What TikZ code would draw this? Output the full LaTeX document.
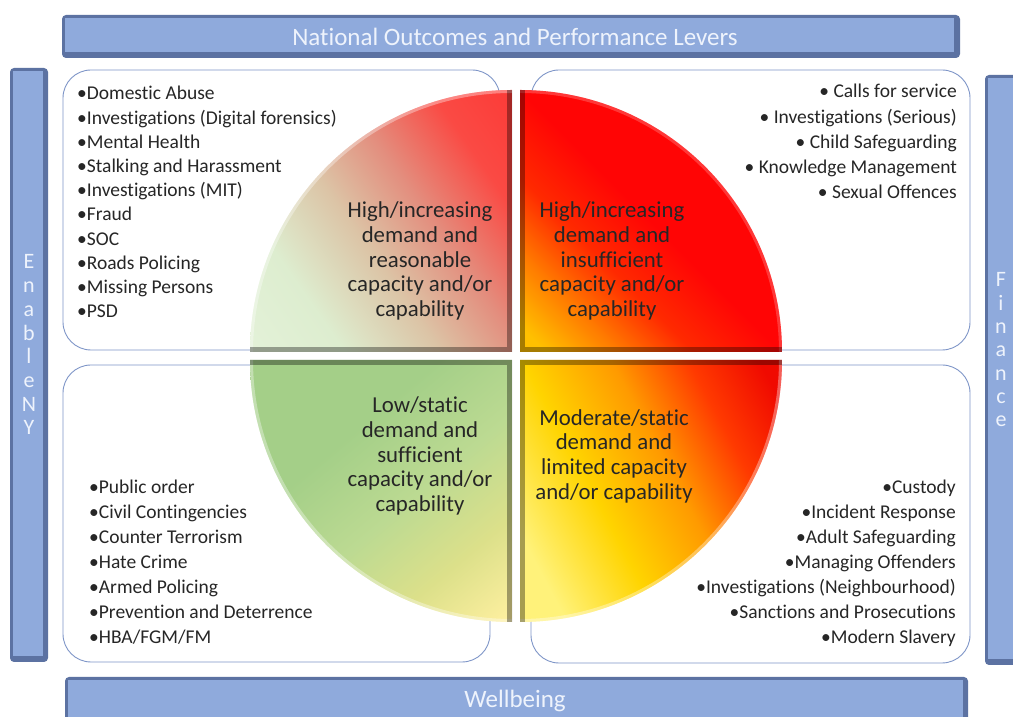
\documentclass[tikz,border=0pt]{standalone}
\usepackage{fontspec}
\setmainfont{Carlito}[Ligatures=NoCommon]

\definecolor{barfill}{HTML}{8FAADC}
\definecolor{baredge}{HTML}{5C72A2}
\definecolor{bartxt}{HTML}{EEF3FC}
\definecolor{boxline}{HTML}{7F96C8}

% quadrant colours
\definecolor{tlA}{HTML}{EAF6E2}
\definecolor{tlB}{HTML}{DDEDCF}
\definecolor{tlC}{HTML}{DCC4A6}
\definecolor{tlD}{HTML}{E38E7E}
\definecolor{tlE}{HTML}{FA4A44}
\definecolor{tlF}{HTML}{FF2828}
\definecolor{trA}{HTML}{FFC000}
\definecolor{trB}{HTML}{FF7A00}
\definecolor{trC}{HTML}{FF2A00}
\definecolor{trD}{HTML}{FF0505}
\definecolor{blA}{HTML}{A4CF88}
\definecolor{blB}{HTML}{BCDA92}
\definecolor{blC}{HTML}{DCE08A}
\definecolor{blD}{HTML}{FFF0A0}
\definecolor{brA}{HTML}{FFF27A}
\definecolor{brB}{HTML}{FFD400}
\definecolor{brC}{HTML}{FF9A00}
\definecolor{brD}{HTML}{FF3A00}
\definecolor{brE}{HTML}{F00A00}

\pgfdeclarehorizontalshading{tlshade}{100bp}{color(0bp)=(tlA); color(30bp)=(tlB);
  color(45bp)=(tlC); color(58bp)=(tlD); color(72bp)=(tlE); color(100bp)=(tlF)}
\pgfdeclarehorizontalshading{trshade}{100bp}{color(0bp)=(trA); color(18bp)=(trA);
  color(28bp)=(trB); color(38bp)=(trC); color(50bp)=(trD); color(100bp)=(trD)}
\pgfdeclarehorizontalshading{blshade}{100bp}{color(0bp)=(blA); color(38bp)=(blA);
  color(55bp)=(blB); color(70bp)=(blC); color(85bp)=(blD); color(100bp)=(blD)}
\pgfdeclarehorizontalshading{brshade}{100bp}{color(0bp)=(brA); color(24bp)=(brA);
  color(40bp)=(brB); color(55bp)=(brC); color(68bp)=(brD); color(80bp)=(brE); color(100bp)=(brE)}

\begin{document}
\begin{tikzpicture}[x=1pt, y=1pt,
    bar/.style={fill=baredge, rounded corners=4pt},
    barface/.style={fill=barfill},
    bartext/.style={text=bartxt, inner sep=0pt, font=\fontsize{25}{28}\selectfont},
    listbox/.style={draw=boxline, line width=0.9pt, fill=white, rounded corners=28pt},
    item/.style={inner sep=0pt, text=black!85, font=\fontsize{19.5}{22}\selectfont},
    quadtext/.style={align=center, inner sep=0pt, text=black!85, font=\fontsize{22.8}{24.7}\selectfont},
    bevel/.style={line width=10pt, black, opacity=0.35},
    rim/.style={line width=6pt, white, opacity=0.35}
    ]
    \useasboundingbox (0,0) rectangle (1013,717);
    \fill[white] (0,0) rectangle (1013,717);

    % Side and top/bottom bars
    \fill[bar] (62,659) rectangle (960,702);
    \fill[barface] (65,665) rectangle (954,699);
    \node[bartext] (title) at (515,680) {National Outcomes and Performance Levers};

    \fill[bar] (65,-8) rectangle (968,40);
    \fill[barface] (68,-8) rectangle (963,37);
    \node[bartext] (wellbeing) at (515,16) {Wellbeing};

    \fill[bar] (10,55) rectangle (48,649);
    \fill[barface] (13,61) rectangle (43,646);
    \foreach \l [count=\i] in {E,n,a,b,l,e,N,Y}
      \node[bartext, font=\fontsize{22}{24}\selectfont, anchor=base] (enable\i) at (29,{448-23.7*(\i-1)}) {\l};

    \fill[bar] (985,52) rectangle (1022,642);
    \fill[barface] (988,58) rectangle (1022,639);
    \foreach \l [count=\i] in {F,i,n,a,n,c,e}
      \node[bartext, font=\fontsize{22}{24}\selectfont, anchor=base] (finance\i) at (1001,{430-23.3*(\i-1)}) {\l};

    % Four list boxes
    \draw[listbox] (63,367) rectangle (500,647);
    \draw[listbox] (531,367) rectangle (970,647);
    \draw[listbox] (63,55) rectangle (490,352);
    \draw[listbox] (531,54) rectangle (970,352);

    % Quadrants of the circle
    \begin{scope}
      \clip (512,365) -- (250,365) arc[start angle=180, end angle=90, radius=262] -- cycle;
      \shade[shading=tlshade, shading angle=35] (250,365) rectangle (512,627);
      \draw[rim] (250,365) arc[start angle=180, end angle=90, radius=262];
      \draw[bevel] (250,365) -- (512,365) -- (512,627);
    \end{scope}
    \begin{scope}
      \clip (520,365) -- (520,627) arc[start angle=90, end angle=0, radius=262] -- cycle;
      \shade[shading=trshade, shading angle=45] (520,365) rectangle (782,627);
      \draw[rim, opacity=0.2] (520,627) arc[start angle=90, end angle=0, radius=262];
      \draw[bevel] (520,627) -- (520,365) -- (782,365);
    \end{scope}
    \begin{scope}
      \clip (512,357) -- (512,95) arc[start angle=270, end angle=180, radius=262] -- cycle;
      \shade[shading=blshade, shading angle=-50] (250,95) rectangle (512,357);
      \draw[rim] (512,95) arc[start angle=270, end angle=180, radius=262];
      \draw[bevel] (250,357) -- (512,357) -- (512,95);
    \end{scope}
    \begin{scope}
      \clip (520,357) -- (782,357) arc[start angle=0, end angle=-90, radius=262] -- cycle;
      \shade[shading=brshade, shading angle=28] (520,95) rectangle (782,357);
      \draw[rim] (782,357) arc[start angle=0, end angle=-90, radius=262];
      \draw[bevel] (782,357) -- (520,357) -- (520,95);
    \end{scope}

    \node[quadtext] (qtl) at (420,456) {High/increasing\\demand and\\reasonable\\capacity and/or\\capability};
    \node[quadtext] (qtr) at (612,456) {High/increasing\\demand and\\insufficient\\capacity and/or\\capability};
    \node[quadtext] (qbl) at (420,261) {Low/static\\demand and\\sufficient\\capacity and/or\\capability};
    \node[quadtext] (qbr) at (614,261) {Moderate/static\\demand and\\limited capacity\\and/or capability};

    % Lists
    \foreach \t [count=\i] in {Domestic Abuse, Investigations (Digital forensics), Mental Health,
        Stalking and Harassment, Investigations (MIT), Fraud, SOC, Roads Policing,
        Missing Persons, PSD}
      \node[item, anchor=base west] (tl\i) at (77,{617-24.2*(\i-1)}) {•\t};
    \foreach \t [count=\i] in {Calls for service, Investigations (Serious), Child Safeguarding,
        Knowledge Management, Sexual Offences}
      \node[item, anchor=base east] (tr\i) at (957,{619-25.2*(\i-1)}) {• \t};
    \foreach \t [count=\i] in {Public order, Civil Contingencies, Counter Terrorism, Hate Crime,
        Armed Policing, Prevention and Deterrence, HBA/FGM/FM}
      \node[item, anchor=base west] (bl\i) at (89,{223-25*(\i-1)}) {•\t};
    \foreach \t [count=\i] in {Custody, Incident Response, Adult Safeguarding, Managing Offenders,
        Investigations (Neighbourhood), Sanctions and Prosecutions, Modern Slavery}
      \node[item, anchor=base east] (br\i) at (956,{223-25*(\i-1)}) {•\t};
\end{tikzpicture}
\end{document}
